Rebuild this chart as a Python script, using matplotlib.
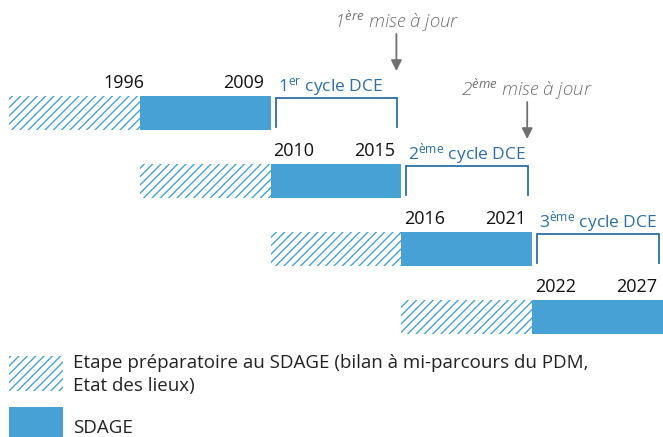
import matplotlib.pyplot as plt
import matplotlib.patches as mpatches

# ============================================================
# DATA
# ============================================================

start_years = ['1996', '2010', '2016', '2022']
end_years = ['2009', '2015', '2021', '2027']

cycle_nums = ['1', '2', '3']
cycle_sups = ['er', 'ème', 'ème']

update_nums = ['1', '2']
update_sups = ['ère', 'ème']

legend_lines = ['Etape préparatoire au SDAGE (bilan à mi-parcours du PDM,',
                'Etat des lieux)']
legend_sdage = 'SDAGE'

# ============================================================
# STYLE
# ============================================================

font = 'Open Sans'
plt.rcParams['font.family'] = [font, 'DejaVu Sans']
plt.rcParams['mathtext.fontset'] = 'custom'
plt.rcParams['mathtext.rm'] = font
plt.rcParams['mathtext.it'] = font + ':italic'
plt.rcParams['hatch.linewidth'] = 1.0
plt.rcParams['hatch.color'] = '#47a1d4'

blue = '#47a1d4'
dark_blue = '#2d6ea8'
grey = '#707070'

W, H = 663, 437
x0 = 9          # left edge of the first slot (px)
step = 130.8    # width of one slot (px)
top0 = 96       # top of first bar (px)
row_gap = 68
bar_h = 34

fig = plt.figure(figsize=(W / 100, H / 100), dpi=100)
ax = fig.add_axes([0, 0, 1, 1])
ax.set_xlim(-x0 / step, (W - x0) / step)
ax.set_ylim(H, 0)
ax.axis('off')

px = 1 / step   # one pixel in x data units

# ============================================================
# BARS AND YEARS
# ============================================================

for i in range(len(start_years)):
    top = top0 + i * row_gap
    ax.add_patch(mpatches.Rectangle((i, top), 1, bar_h, facecolor='white',
                                    edgecolor=blue, hatch='////', lw=0))
    ax.add_patch(mpatches.Rectangle((i + 1, top), 1, bar_h, facecolor=blue,
                                    edgecolor='none'))
    if i == 0:
        ax.text(i + 1 + 5 * px, top - 8, start_years[i], ha='right',
                va='baseline', fontsize=13, color='#111111')
    else:
        ax.text(i + 1 + 3 * px, top - 8, start_years[i], ha='left',
                va='baseline', fontsize=13, color='#111111')
    ax.text(i + 2 - 6 * px, top - 8, end_years[i], ha='right',
            va='baseline', fontsize=13, color='#111111')

# ============================================================
# DCE CYCLE BRACKETS
# ============================================================

for i in range(len(cycle_nums)):
    top = top0 + i * row_gap
    left = i + 2 + 5 * px
    right = i + 3 - 4 * px
    ax.plot([left, left, right, right], [top + bar_h - 3, top + 2, top + 2, top + bar_h - 3],
            color=dark_blue, lw=1.3, solid_joinstyle='miter')
    ax.text(left + 2 * px, top - 5,
            cycle_nums[i] + r'$^{\mathrm{' + cycle_sups[i] + '}}$ cycle DCE',
            ha='left', va='baseline', fontsize=12.5, color=dark_blue)

# ============================================================
# UPDATES (ARROWS)
# ============================================================

for i in range(len(update_nums)):
    top = top0 + i * row_gap
    x = i + 3 - 5 * px
    ax.annotate('', xy=(x, top - 25), xytext=(x, top - 62),
                arrowprops=dict(arrowstyle='-|>', color=grey, lw=1.3,
                                mutation_scale=16, shrinkA=0, shrinkB=0))
    ax.text(x, top - 68,
            update_nums[i] + r'$^{\mathit{' + update_sups[i] + '}}$ mise à jour',
            ha='center', va='baseline', fontsize=13.5, color=grey,
            fontstyle='italic', fontweight='light')

# ============================================================
# LEGEND
# ============================================================

ax.add_patch(mpatches.Rectangle((0, 356), 54 * px, 35, facecolor='white',
                                edgecolor=blue, hatch='////', lw=0))
ax.text(64 * px, 368, legend_lines[0], ha='left', va='baseline',
        fontsize=13.5, color='#222222')
ax.text(64 * px, 391, legend_lines[1], ha='left', va='baseline',
        fontsize=13.5, color='#222222')
ax.add_patch(mpatches.Rectangle((0, 407), 54 * px, 32, facecolor=blue,
                                edgecolor='none'))
ax.text(64 * px, 433, legend_sdage, ha='left', va='baseline',
        fontsize=13.5, color='#222222')

fig.savefig('out.png', dpi=100)
